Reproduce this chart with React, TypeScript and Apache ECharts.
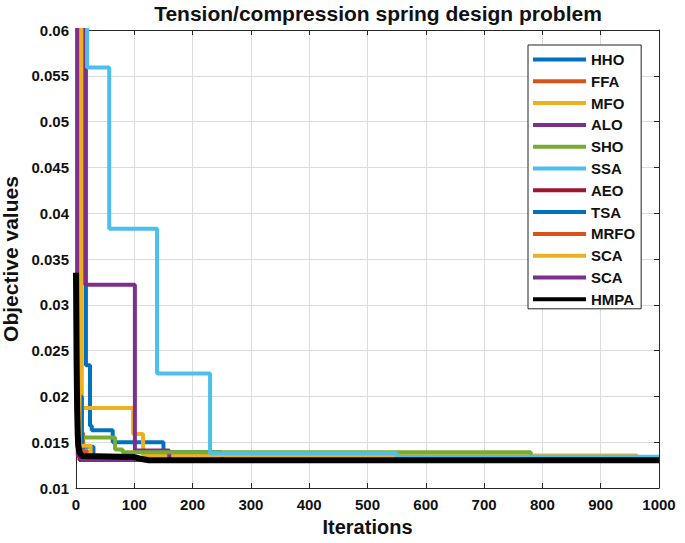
import React, { useEffect, useRef } from "react";
import * as echarts from "echarts";

const seriesNames = ["HHO", "FFA", "MFO", "ALO", "SHO", "SSA", "AEO", "TSA", "MRFO", "SCA-1", "SCA-2", "HMPA"];
const seriesColors = ["#0072BD", "#D95319", "#EDB120", "#7E2F8E", "#77AC30", "#4DBEEE", "#A2142F", "#0072BD", "#D95319", "#EDB120", "#7E2F8E", "#000000"];

// convergence curves: each [iteration, value] holds until the next point
const hho = [[0, 0.25], [17, 0.0234], [24, 0.0168], [27, 0.0163], [63, 0.015], [150, 0.0139], [250, 0.01305], [1000, 0.01305]];
const ffa = [[0, 0.3], [8, 0.0185], [10, 0.016], [12, 0.014], [20, 0.01305], [1000, 0.01305]];
const mfo = [[0, 0.3], [10, 0.01873], [98, 0.0159], [115, 0.01355], [962, 0.01305], [1000, 0.01305]];
const alo = [[0, 0.3], [16, 0.0322], [101, 0.0141], [160, 0.01305], [1000, 0.01305]];
const sho = [[0, 0.2], [4, 0.0155], [67, 0.0142], [80, 0.0139], [780, 0.01305], [1000, 0.01305]];
const ssa = [[0, 0.3], [19, 0.0559], [57, 0.0383], [139, 0.0225], [230, 0.0138], [550, 0.0134], [1000, 0.0134]];
const aeo = [[0, 0.2], [3, 0.0145], [6, 0.01305], [1000, 0.01305]];
const tsa = [[0, 0.2], [5, 0.02], [10, 0.0145], [30, 0.01305], [1000, 0.01305]];
const mrfo = [[0, 0.1], [3, 0.017], [6, 0.014], [10, 0.01305], [1000, 0.01305]];
const sca1 = [[0, 0.3], [6, 0.0146], [25, 0.0134], [60, 0.01305], [1000, 0.01305]];
const sca2 = [[0, 0.3], [2, 0.02], [3, 0.0135], [10, 0.01305], [1000, 0.01305]];
const hmpa = [[0, 0.0335], [1, 0.024], [2, 0.0185], [3, 0.0158], [4, 0.0146], [6, 0.0139], [10, 0.0135], [100, 0.01338], [110, 0.0132], [125, 0.01303], [1000, 0.01303]];

const seriesData = [hho, ffa, mfo, alo, sho, ssa, aeo, tsa, mrfo, sca1, sca2, hmpa];

const FONT = "'Liberation Sans', Arial, Helvetica, sans-serif";

export default function App() {
  const ref = useRef<HTMLDivElement>(null);
  useEffect(() => {
    if (!ref.current) return;
    const chart = echarts.init(ref.current, undefined, { renderer: "svg" });
    const axisLineStyle = { color: "#262626", width: 1 };
    const series = seriesNames.map((name, i) => ({
      name,
      type: "line",
      xAxisIndex: 0,
      yAxisIndex: 0,
      data: seriesData[i],
      step: name === "HMPA" ? undefined : "end",
      showSymbol: false,
      symbol: "none",
      lineStyle: { color: seriesColors[i], width: name === "HMPA" ? 6 : 4 },
      itemStyle: { color: seriesColors[i] },
      clip: true,
      z: name === "HMPA" ? 5 : 2,
    }));
    chart.setOption({
      animation: false,
      backgroundColor: "#ffffff",
      textStyle: { fontFamily: FONT },
      title: {
        text: "Tension/compression spring design problem",
        left: 378,
        textAlign: "center",
        top: 3,
        padding: 0,
        textStyle: { fontSize: 21, fontWeight: "bold", color: "#111", fontFamily: FONT },
      },
      legend: {
        orient: "vertical",
        left: 528,
        top: 45,
        padding: [7, 6, 2, 5],
        itemGap: 6.8,
        itemWidth: 53,
        itemHeight: 4,
        icon: "rect",
        borderColor: "#222",
        borderWidth: 1,
        backgroundColor: "#ffffff",
        data: seriesNames,
        formatter: (n: string) => n.replace(/-\d$/, ""),
        textStyle: { fontSize: 15, fontWeight: "bold", color: "#111", lineHeight: 15, fontFamily: FONT },
      },
      grid: { left: 76, right: 26, top: 30, bottom: 55, containLabel: false, outerBoundsMode: "none" },
      xAxis: [
        {
          type: "value",
          min: 0,
          max: 1000,
          interval: 100,
          position: "bottom",
          name: "Iterations",
          nameLocation: "middle",
          nameGap: 28,
          nameTextStyle: { fontSize: 20, fontWeight: "bold", color: "#111", fontFamily: FONT },
          axisLine: { show: true, onZero: false, lineStyle: axisLineStyle },
          axisTick: { show: true, inside: true, length: 5, lineStyle: axisLineStyle },
          axisLabel: {
            fontSize: 15,
            fontWeight: "bold",
            color: "#111",
            margin: 9,
            fontFamily: FONT,
            formatter: (v: number) => String(v),
          },
          splitLine: { show: true, lineStyle: { color: "#dcdcdc", width: 1 } },
        },
        {
          type: "value",
          min: 0,
          max: 1000,
          interval: 100,
          position: "top",
          axisLine: { show: true, onZero: false, lineStyle: axisLineStyle },
          axisTick: { show: true, inside: true, length: 5, lineStyle: axisLineStyle },
          axisLabel: { show: false },
          splitLine: { show: false },
        },
      ],
      yAxis: [
        {
          type: "value",
          min: 0.01,
          max: 0.06,
          interval: 0.005,
          position: "left",
          name: "Objective values",
          nameLocation: "middle",
          nameGap: 53,
          nameTextStyle: { fontSize: 21, fontWeight: "bold", color: "#111", fontFamily: FONT },
          axisLine: { show: true, onZero: false, lineStyle: axisLineStyle },
          axisTick: { show: true, inside: true, length: 5, lineStyle: axisLineStyle },
          axisLabel: {
            fontSize: 15,
            fontWeight: "bold",
            color: "#111",
            margin: 7,
            fontFamily: FONT,
            formatter: (v: number) => String(parseFloat(v.toFixed(3))),
          },
          splitLine: { show: true, lineStyle: { color: "#dcdcdc", width: 1 } },
        },
        {
          type: "value",
          min: 0.01,
          max: 0.06,
          interval: 0.005,
          position: "right",
          axisLine: { show: true, onZero: false, lineStyle: axisLineStyle },
          axisTick: { show: true, inside: true, length: 5, lineStyle: axisLineStyle },
          axisLabel: { show: false },
          splitLine: { show: false },
        },
      ],
      series,
    });
    return () => chart.dispose();
  }, []);
  return <div ref={ref} style={{ position: "absolute", left: 0, top: 0, width: 685, height: 543 }} />;
}
